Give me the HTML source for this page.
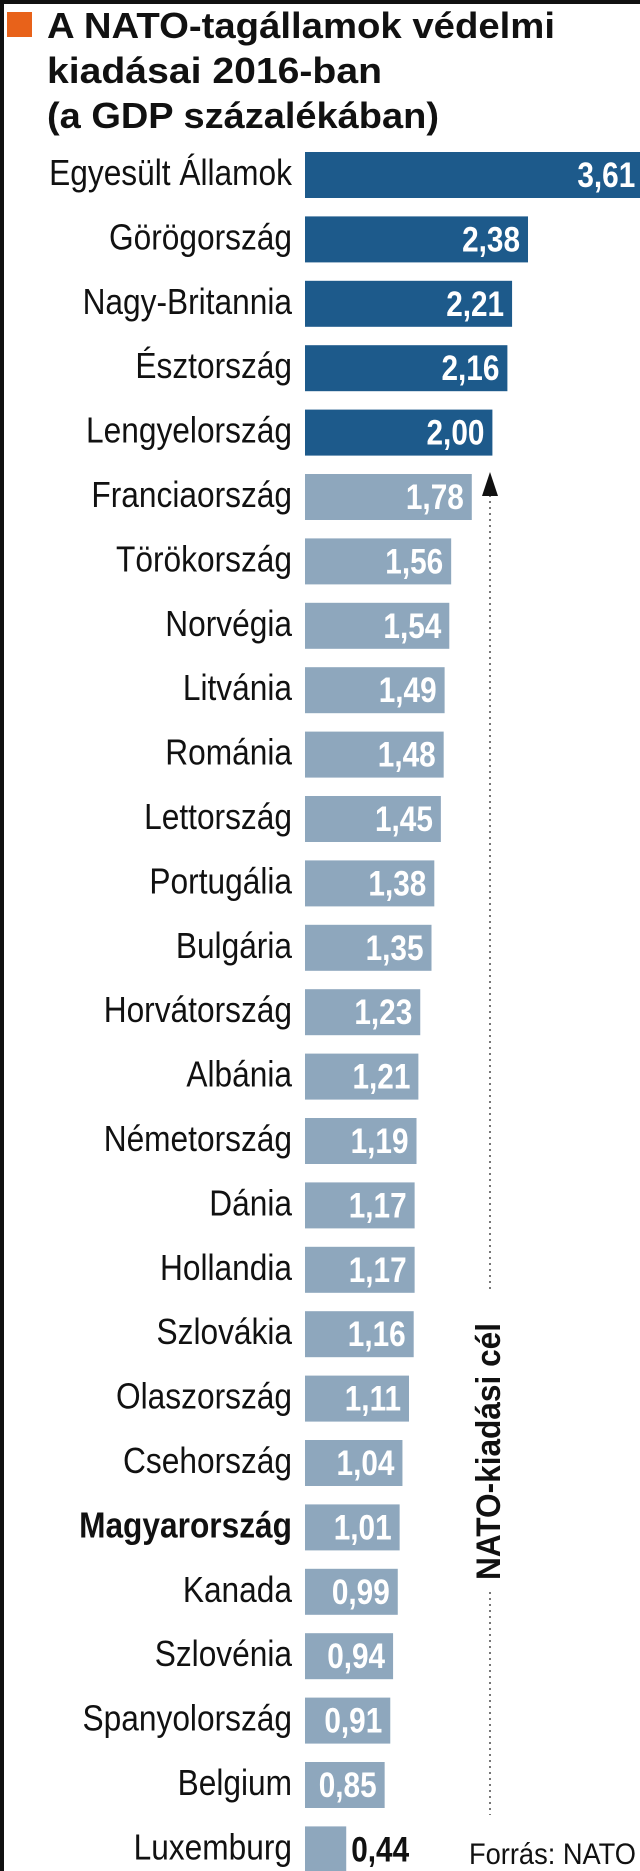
<!DOCTYPE html>
<html><head><meta charset="utf-8">
<style>
html,body{margin:0;padding:0;background:#fff;}
svg{display:block;}
text{font-family:"Liberation Sans",sans-serif;}
</style></head>
<body>
<svg id="chart" width="640" height="1871" viewBox="0 0 640 1871" xmlns="http://www.w3.org/2000/svg">
  <rect x="0" y="0" width="640" height="4" fill="#111"/>
  <rect x="0" y="0" width="4" height="1871" fill="#111"/>
  <rect x="7" y="12" width="25" height="25" fill="#e8621a"/>
  <g font-weight="bold" font-size="36" fill="#111">
    <text x="47" y="38" textLength="508" lengthAdjust="spacingAndGlyphs">A NATO-tagállamok védelmi</text>
    <text x="47" y="83" textLength="335" lengthAdjust="spacingAndGlyphs">kiadásai 2016-ban</text>
    <text x="47" y="128" textLength="392" lengthAdjust="spacingAndGlyphs">(a GDP százalékában)</text>
  </g>
  <g id="bars"></g>
  <g>
    <line x1="490" y1="495" x2="490" y2="1293" stroke="#777" stroke-width="2" stroke-dasharray="2,4"/>
    <line x1="490" y1="1592" x2="490" y2="1815" stroke="#777" stroke-width="2" stroke-dasharray="2,4"/>
    <polygon points="490,472 482,496 498,496" fill="#111"/>
    <text transform="translate(500,1580) rotate(-90)" font-size="34" font-weight="bold" fill="#111" textLength="257" lengthAdjust="spacingAndGlyphs">NATO-kiadási cél</text>
  </g>
  <text x="469" y="1864" font-size="30" fill="#111" textLength="167" lengthAdjust="spacingAndGlyphs">Forrás: NATO</text>
</svg>
<script>
const countries = ["Egyesült Államok","Görögország","Nagy-Britannia","Észtország","Lengyelország","Franciaország","Törökország","Norvégia","Litvánia","Románia","Lettország","Portugália","Bulgária","Horvátország","Albánia","Németország","Dánia","Hollandia","Szlovákia","Olaszország","Csehország","Magyarország","Kanada","Szlovénia","Spanyolország","Belgium","Luxemburg"];
const values = [3.61,2.38,2.21,2.16,2.00,1.78,1.56,1.54,1.49,1.48,1.45,1.38,1.35,1.23,1.21,1.19,1.17,1.17,1.16,1.11,1.04,1.01,0.99,0.94,0.91,0.85,0.44];
const natoTarget = 2.0;

const NS = "http://www.w3.org/2000/svg";
const x0 = 305, pxPerUnit = 93.7, top0 = 152, pitch = 64.4, barH = 46;
const xScale = v => x0 + v * pxPerUnit;
const yScale = i => top0 + i * pitch;
const g = document.getElementById('bars');
countries.forEach((c, i) => {
  const v = values[i];
  const y = yScale(i);
  const xe = xScale(v);
  const rect = document.createElementNS(NS, 'rect');
  rect.setAttribute('x', x0);
  rect.setAttribute('y', y);
  rect.setAttribute('width', xe - x0);
  rect.setAttribute('height', barH);
  rect.setAttribute('fill', v >= natoTarget ? '#1d5a8b' : '#8ea7bd');
  
  
  g.appendChild(rect);

  const lab = document.createElementNS(NS, 'text');
  lab.setAttribute('transform', 'translate(292,' + (y + barH / 2 + 10) + ') scale(0.88,1)');
  lab.setAttribute('text-anchor', 'end');
  lab.setAttribute('font-size', '36');
  lab.setAttribute('fill', '#111');
  if (c === 'Magyarország') lab.setAttribute('font-weight', 'bold');
  lab.textContent = c;
  
  
  g.appendChild(lab);

  const val = document.createElementNS(NS, 'text');
  const txt = v.toFixed(2).replace('.', ',');
  const inside = (xe - x0) > 70;
  const vx = inside ? xe - 8 : xe + 5;
  val.setAttribute('transform', 'translate(' + vx + ',' + (y + barH / 2 + 12) + ') scale(0.85,1)');
  val.setAttribute('text-anchor', inside ? 'end' : 'start');
  val.setAttribute('font-size', '35');
  val.setAttribute('font-weight', 'bold');
  val.setAttribute('fill', inside ? '#fff' : '#111');
  val.textContent = txt;
  
  
  g.appendChild(val);
});
</script>
</body></html>
